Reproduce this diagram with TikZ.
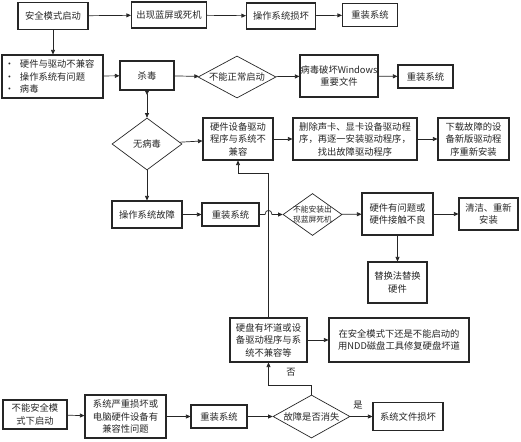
\documentclass[tikz,border=0pt]{standalone}
\usepackage{fontspec}
\newfontfamily\cjk{Noto Sans CJK SC}
\usetikzlibrary{shapes.geometric,arrows.meta}
\begin{document}
\begin{tikzpicture}[x=1pt,y=-1pt,
  txt/.style={font=\cjk\fontsize{9.3}{12.5}\selectfont, text=black!85},
  box/.style={txt, draw=black!85, line width=1.1pt, inner sep=0pt, align=center},
  dia/.style={txt, diamond, draw=black!85, line width=0.7pt, inner sep=0pt, align=center},
  conn/.style={draw=black!85, line width=0.7pt, -{Triangle[length=4.5pt,width=4pt]}},
  lbl/.style={txt, inner sep=0pt}]
\useasboundingbox (0,0) rectangle (521,441);

% row 1
\node[box, minimum width=70pt, minimum height=27pt] (n1) at (53,16) {安全模式启动};
\node[box, minimum width=75pt, minimum height=26pt] (n2) at (169,15) {出现蓝屏或死机};
\node[box, minimum width=69pt, minimum height=26pt] (n3) at (281,16) {操作系统损坏};
\node[box, minimum width=55pt, minimum height=23pt] (n4) at (370,15) {重装系统};

% row 2
\node[box, align=left, text width=95pt, inner xsep=3pt, minimum height=43pt] (n5) at (52.5,76.5)
  {\makebox[15pt][l]{•}硬件与驱动不兼容\\\makebox[15pt][l]{•}操作系统有问题\\\makebox[15pt][l]{•}病毒};
\node[box, minimum width=54pt, minimum height=29pt] (n6) at (147,75.5) {杀毒};
\node[dia, shape aspect=1.86, minimum width=78pt, minimum height=42pt] (d1) at (237,77) {不能正常启动};
\node[box, minimum width=78pt, minimum height=42pt] (n7) at (339,76) {病毒破坏Windows\\重要文件};
\node[box, minimum width=55pt, minimum height=23pt] (n8) at (425.5,76.5) {重装系统};

% row 3
\node[dia, shape aspect=1.35, minimum width=70pt, minimum height=52pt] (d2) at (147,144) {无病毒};
\node[box, minimum width=70pt, minimum height=42pt] (n9) at (238,139) {硬件设备驱动\\程序与系统不\\兼容};
\node[box, minimum width=124pt, minimum height=42pt] (n10) at (355,139) {删除声卡、显卡设备驱动程\\序，再逐一安装驱动程序，\\找出故障驱动程序};
\node[box, minimum width=71pt, minimum height=42pt] (n11) at (473.5,139) {下载故障的设\\备新版驱动程\\序重新安装};

% row 4
\node[box, minimum width=70pt, minimum height=27pt] (n12) at (147,214.5) {操作系统故障};
\node[box, minimum width=57pt, minimum height=23pt] (n13) at (230.5,214.5) {重装系统};
\node[dia, shape aspect=1.4, inner sep=-3pt, minimum width=59pt, minimum height=42pt, font=\cjk\fontsize{7.8}{9.5}\selectfont] (d3) at (312.5,214.5) {不能安装出\\现蓝屏死机};
\node[box, minimum width=71pt, minimum height=42pt] (n14) at (397.5,214) {硬件有问题或\\硬件接触不良};
\node[box, minimum width=59pt, minimum height=32pt] (n15) at (488.5,214) {清洁、重新\\安装};
\node[box, minimum width=59pt, minimum height=41pt] (n16) at (397.5,282.5) {替换法替换\\硬件};

% row 5
\node[box, minimum width=77pt, minimum height=44pt] (n17) at (268.5,340) {硬盘有坏道或设\\备驱动程序与系\\统不兼容等};
\node[box, minimum width=140pt, minimum height=44pt] (n18) at (399,340) {在安全模式下还是不能启动的\\用NDD磁盘工具修复硬盘坏道};

% row 6
\node[box, minimum width=64pt, minimum height=29pt] (n19) at (35,414.5) {不能安全模\\式下启动};
\node[box, minimum width=81pt, minimum height=43pt] (n20) at (125.5,416.5) {系统严重损坏或\\电脑硬件设备有\\兼容性问题};
\node[box, minimum width=56pt, minimum height=23pt] (n21) at (219,416.5) {重装系统};
\node[dia, shape aspect=1.79, minimum width=77pt, minimum height=43pt] (d4) at (311.5,416.5) {故障是否消失};
\node[box, minimum width=70pt, minimum height=28pt] (n22) at (408,416.5) {系统文件损坏};

\node[lbl] (yes) at (358,405) {是};
\node[lbl] (no) at (291,372) {否};

\coordinate (c1) at (268.5,173);
\coordinate (c2) at (238,173);
\coordinate (c3) at (311.5,385);
\coordinate (c4) at (268.5,385);

% connectors
\draw[conn] (n1) -- (n2);
\draw[conn] (n2) -- (n3);
\draw[conn] (n3) -- (n4);
\draw[conn] (n1.south) -- (n5.north -| n1.south);
\draw[conn] (n5) -- (n6);
\draw[conn] (n6) -- (d1);
\draw[conn] (d1) -- (n7);
\draw[conn] (n7) -- (n8);
\draw[draw=black!85, line width=0.7pt, {Triangle[reversed,length=4.5pt,width=4pt]}-{Triangle[length=4.5pt,width=4pt]}] (n6.south) -- (d2.north);
\draw[conn] (d2) -- (n9);
\draw[conn] (n9) -- (n10);
\draw[conn] (n10) -- (n11);
\draw[conn] (d2.south) -- (n12.north);
\draw[conn] (n12) -- (n13);
\draw[conn] (n13.east) -- (265,214.5) .. controls (265,209) and (272,209) .. (272,214.5) -- (d3.west);
\draw[conn] (d3) -- (n14);
\draw[conn] (n14) -- (n15);
\draw[conn] (n14.south) -- (n16.north);
\draw[conn] (n17.north) -- (c1) -- (c2) -- (n9.south);
\draw[conn] (n17) -- (n18);
\draw[conn] (n19) -- (n20);
\draw[conn] (n20) -- (n21);
\draw[conn] (n21) -- (d4);
\draw[conn] (d4) -- (n22);
\draw[conn] (d4.north) -- (c3) -- (c4) -- (n17.south);
\end{tikzpicture}
\end{document}
